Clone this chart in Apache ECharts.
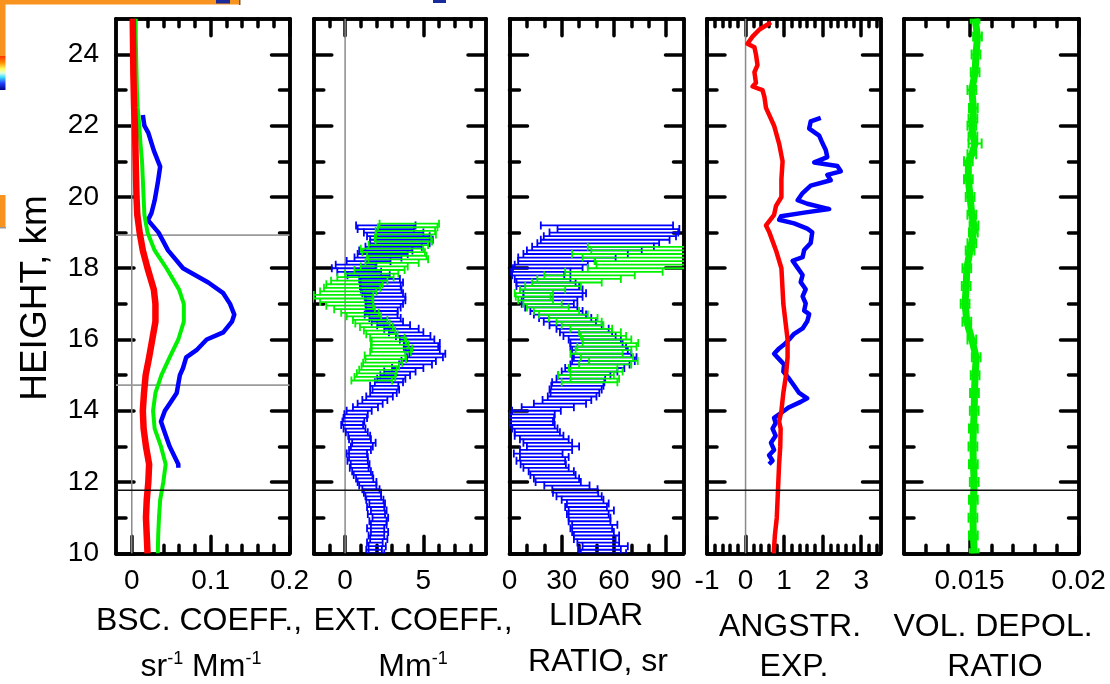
<!DOCTYPE html>
<html>
<head>
<meta charset="utf-8">
<title>Lidar profiles</title>
<script src="https://cdn.jsdelivr.net/npm/echarts@6/dist/echarts.min.js"></script>
<style>
  html, body { margin: 0; padding: 0; background: #fff; }
  #chart { width: 1110px; height: 684px; }
</style>
</head>
<body>
<div id="chart"></div>
<script>
// ---------- data (height in km) ----------
// Backscatter coefficient, sr^-1 Mm^-1
const bscRedH = [10.0, 10.5, 11.0, 11.5, 12.0, 12.5, 13.0, 13.5, 14.0, 14.5, 15.0, 15.5, 16.0, 16.5, 17.0, 17.4, 18.0, 18.5, 19.0, 19.5, 20.0, 20.5, 21.0, 21.5, 22.0, 22.5, 23.0, 23.5, 24.0, 24.5, 25.0];
const bscRed = [0.020, 0.019, 0.018, 0.019, 0.021, 0.022, 0.018, 0.015, 0.014, 0.0155, 0.0176, 0.022, 0.026, 0.030, 0.030, 0.028, 0.020, 0.014, 0.010, 0.007, 0.006, 0.0055, 0.005, 0.0045, 0.004, 0.003, 0.0025, 0.002, 0.0018, 0.0015, 0.0012];
const bscGreenH = [10.0, 10.5, 11.0, 11.5, 12.0, 12.5, 13.0, 13.5, 14.0, 14.5, 15.0, 15.5, 16.0, 16.5, 17.0, 17.4, 18.0, 18.5, 19.0, 19.5, 20.0, 20.5, 21.0, 21.5, 22.0, 22.5, 23.0, 23.5, 24.0, 24.5, 25.0];
const bscGreen = [0.033, 0.0335, 0.0345, 0.036, 0.040, 0.043, 0.037, 0.029, 0.027, 0.030, 0.0376, 0.048, 0.059, 0.066, 0.066, 0.060, 0.044, 0.029, 0.020, 0.016, 0.015, 0.014, 0.013, 0.011, 0.0095, 0.0075, 0.0065, 0.006, 0.0055, 0.005, 0.005];
const bscBlueH = [12.4, 12.5, 12.7, 13.0, 13.5, 13.7, 14.0, 14.2, 14.5, 15.0, 15.2, 15.5, 15.7, 16.0, 16.2, 16.5, 16.7, 17.0, 17.3, 17.6, 18.0, 18.5, 19.0, 19.35, 19.55, 19.9, 20.4, 20.85, 21.3, 21.8, 22.0, 22.3];
const bscBlue = [0.059, 0.059, 0.0545, 0.048, 0.040, 0.037, 0.042, 0.048, 0.057, 0.061, 0.065, 0.069, 0.082, 0.095, 0.116, 0.127, 0.130, 0.1246, 0.116, 0.097, 0.065, 0.046, 0.034, 0.0205, 0.025, 0.029, 0.033, 0.036, 0.028, 0.021, 0.016, 0.014];

// Extinction coefficient, Mm^-1 (value and half error)
const extBlueH = [10.0, 10.1, 10.2, 10.3, 10.4, 10.5, 10.6, 10.7, 10.8, 10.9, 11.0, 11.1, 11.2, 11.3, 11.4, 11.5, 11.6, 11.7, 11.8, 11.9,
  12.0, 12.1, 12.2, 12.3, 12.4, 12.5, 12.6, 12.7, 12.8, 12.9, 13.0, 13.1, 13.2, 13.3, 13.4, 13.5, 13.6, 13.7, 13.8, 13.9,
  14.0, 14.1, 14.2, 14.3, 14.4, 14.5, 14.6, 14.7, 14.8, 14.9, 15.0, 15.1, 15.2, 15.3, 15.4, 15.5, 15.6, 15.7, 15.8, 15.9,
  16.0, 16.1, 16.2, 16.3, 16.4, 16.5, 16.6, 16.7, 16.8, 16.9, 17.0, 17.1, 17.2, 17.3, 17.4, 17.5, 17.6, 17.7, 17.8, 17.9,
  18.0, 18.1, 18.2, 18.3, 18.4, 18.5, 18.6, 18.7, 18.8, 18.9, 19.0, 19.1, 19.2];
const extBlue = [2.0, 1.85, 2.05, 1.9, 2.15, 2.0, 2.2, 1.95, 2.15, 2.1, 2.25, 2.0, 2.15, 1.95, 2.05, 1.9, 1.8, 1.75, 1.65, 1.45,
  1.4, 1.25, 1.15, 1.05, 0.9, 0.96, 0.8, 0.85, 0.75, 0.95, 1.07, 1.2, 0.95, 0.9, 0.75, 0.6, 0.45, 0.53, 0.65, 0.7,
  0.9, 1.3, 1.6, 1.9, 2.2, 2.45, 2.6, 2.5, 2.8, 2.95, 3.2, 3.5, 4.0, 4.5, 4.7, 5.1, 5.25, 4.95, 4.85, 4.9,
  4.6, 4.35, 3.9, 3.6, 3.1, 2.7, 2.55, 2.3, 2.36, 2.45, 2.5, 2.6, 2.55, 2.4, 2.3, 2.25, 2.35, 2.2, 1.5, 0.9,
  0.55, 0.7, 1.5, 2.1, 2.4, 2.6, 3.1, 3.5, 3.6, 3.4, 3.1, 2.6, 2.6];
const extBlueErr = [0.5, 0.5, 0.55, 0.5, 0.55, 0.5, 0.55, 0.55, 0.5, 0.55, 0.5, 0.55, 0.5, 0.55, 0.5, 0.55, 0.5, 0.55, 0.55, 0.55,
  0.6, 0.55, 0.6, 0.6, 0.6, 0.6, 0.65, 0.6, 0.65, 0.7, 0.7, 0.75, 0.7, 0.7, 0.7, 0.7, 0.7, 0.7, 0.75, 0.75,
  0.8, 0.8, 0.8, 0.8, 0.85, 0.85, 0.85, 0.9, 0.9, 0.9, 0.95, 1.0, 1.0, 1.05, 1.1, 1.15, 1.15, 1.1, 1.1, 1.15,
  1.1, 1.1, 1.1, 1.1, 1.05, 1.0, 1.0, 1.05, 1.0, 1.1, 1.2, 1.25, 1.3, 1.3, 1.3, 1.3, 1.35, 1.3, 1.35, 1.4,
  1.4, 1.3, 1.4, 1.5, 1.6, 1.7, 1.8, 1.9, 2.0, 2.0, 1.9, 1.8, 1.9];
const extGreenH = [14.85, 14.95, 15.05, 15.15, 15.25, 15.35, 15.45, 15.55, 15.65, 15.75, 15.85, 15.95, 16.05, 16.15, 16.25, 16.35,
  16.45, 16.55, 16.65, 16.75, 16.85, 16.95, 17.05, 17.15, 17.25, 17.35, 17.45, 17.55, 17.65, 17.75, 17.85, 17.95,
  18.05, 18.15, 18.25, 18.35, 18.45, 18.55, 18.65, 18.75, 18.85, 18.95, 19.05, 19.15, 19.25];
const extGreen = [1.7, 1.9, 2.0, 2.1, 2.25, 2.4, 2.6, 2.55, 2.9, 3.0, 2.85, 2.8, 2.7, 2.35, 2.2, 2.0,
  1.75, 1.6, 1.2, 0.95, 0.6, 0.3, 0.1, -0.15, -0.1, 0.2, 0.45, 0.6, 0.9, 1.3, 1.7, 2.2,
  2.5, 3.0, 3.4, 3.3, 3.1, 3.0, 3.4, 3.75, 3.7, 3.9, 3.85, 4.0, 4.1];
const extGreenErr = [1.3, 1.3, 1.25, 1.2, 1.2, 1.25, 1.3, 1.3, 1.3, 1.3, 1.2, 1.1, 1.1, 1.0, 1.0, 1.05,
  1.1, 1.1, 1.1, 1.2, 1.3, 1.5, 1.7, 1.9, 1.9, 1.8, 1.8, 1.8, 1.8, 1.8, 1.7, 1.6,
  1.5, 1.7, 1.9, 1.9, 2.0, 2.0, 1.9, 1.8, 1.8, 1.9, 1.9, 1.9, 1.9];

// Lidar ratio, sr (value and half error)
const lrBlueH = [10.0, 10.1, 10.2, 10.3, 10.4, 10.5, 10.6, 10.7, 10.8, 10.9, 11.0, 11.1, 11.2, 11.3, 11.4, 11.5, 11.6, 11.7, 11.8, 11.9,
  12.0, 12.1, 12.2, 12.3, 12.4, 12.5, 12.6, 12.7, 12.8, 12.9, 13.0, 13.1, 13.2, 13.3, 13.4, 13.5, 13.6, 13.7, 13.8, 13.9,
  14.0, 14.1, 14.2, 14.3, 14.4, 14.5, 14.6, 14.7, 14.8, 14.9, 15.0, 15.1, 15.2, 15.3, 15.4, 15.5, 15.6, 15.7, 15.8, 15.9,
  16.0, 16.1, 16.2, 16.3, 16.4, 16.5, 16.6, 16.7, 16.8, 16.9, 17.0, 17.1, 17.2, 17.3, 17.4, 17.5, 17.6, 17.7, 17.8, 17.9,
  18.0, 18.1, 18.2, 18.3, 18.4, 18.5, 18.6, 18.7, 18.8, 18.9, 19.0, 19.1, 19.2];
const lrBlue = [54, 52, 55, 51, 49, 50, 48, 47, 49, 46, 46, 45, 47, 44, 45, 42, 40, 38, 37.6, 33,
  28, 27, 25, 24, 21, 19.4, 18, 20, 16.5, 21, 25, 22, 20, 17, 16, 14.6, 13, 12, 12.7, 13,
  15.5, 22, 29, 33, 36, 37.6, 38, 39, 39.5, 41, 43, 46, 49, 52, 54, 55, 53, 52, 51, 50,
  49, 46, 44, 42, 38, 34.7, 32, 29, 27, 24, 22, 23, 25, 26, 24, 22, 21, 19, 16.5, 18,
  22, 24, 27, 33, 38, 43, 48, 51, 55, 57.7, 60, 62.6, 56];
const lrBlueErr = [13, 12, 13, 12, 12, 13, 12, 12, 13, 12, 12, 12, 13, 12, 12, 12, 13, 13, 13, 13,
  13, 13, 13, 13, 13, 13, 14, 14, 14, 15, 15, 14, 14, 14, 13, 13, 13, 13, 13, 13,
  14, 15, 15, 14, 14, 14, 15, 15, 15, 14, 15, 16, 17, 17, 18, 18, 17, 16, 16, 15,
  15, 15, 15, 15, 15, 15, 15, 15, 15, 15, 15, 16, 17, 18, 18, 18, 17, 16, 15, 17,
  20, 21, 22, 28, 30, 33, 35, 35, 37, 38, 37, 35, 38];
const lrGreenH = [14.8, 14.9, 15.0, 15.1, 15.2, 15.3, 15.4, 15.5, 15.6, 15.7, 15.8, 15.9, 16.0, 16.1, 16.2, 16.3, 16.4, 16.5, 16.6, 16.7,
  16.8, 16.9, 17.0, 17.1, 17.2, 17.3, 17.4, 17.5, 17.6, 17.7, 17.8, 17.9, 18.0, 18.1, 18.2, 18.3, 18.4, 18.5, 18.6];
const lrGreen = [46, 49, 44, 50, 48, 55, 59.7, 56, 50, 54, 56, 58, 56, 54, 52, 47, 42, 40, 36.6, 31,
  27, 22, 19, 15, 13.6, 14, 19, 25, 33, 40, 46, 60, 75, 80, 79, 74, 71, 77, 75];
const lrGreenErr = [16, 14, 16, 15, 14, 15, 14, 15, 15, 16, 17, 16, 14, 13, 12, 12, 12, 13, 14, 14,
  13, 12, 11, 10, 10, 11, 13, 16, 20, 24, 26, 28, 30, 30, 30, 32, 35, 30, 30];

// Angstrom exponent
const angRedH = [10.0, 10.5, 11.0, 11.5, 12.0, 12.5, 13.0, 13.5, 13.7, 14.0, 14.5, 15.0, 15.5, 16.0, 17.0, 18.0, 18.5, 19.0, 19.2, 19.5, 19.75, 20.0, 20.5, 21.0, 21.5, 22.0, 22.5, 22.8, 23.0, 23.1, 23.2, 23.5, 23.7, 24.0, 24.2, 24.3, 24.5, 24.7, 24.9];
const angRed = [0.73, 0.76, 0.81, 0.83, 0.85, 0.87, 0.9, 0.91, 0.87, 0.93, 0.98, 1.05, 1.09, 1.09, 0.98, 0.93, 0.79, 0.62, 0.53, 0.74, 0.79, 0.93, 0.93, 0.96, 0.87, 0.74, 0.53, 0.49, 0.44, 0.18, 0.27, 0.23, 0.31, 0.27, 0.23, 0.05, 0.18, 0.36, 0.66];
const angBlueH = [12.5, 12.6, 12.75, 12.9, 13.1, 13.3, 13.5, 13.65, 13.8, 14.0, 14.1, 14.25, 14.35, 14.5, 14.7, 14.9, 15.1, 15.3, 15.45, 15.6, 15.75, 15.86, 16.0, 16.16, 16.31, 16.51, 16.71, 16.81, 17.01, 17.21, 17.41, 17.61, 17.81, 18.01, 18.21, 18.31, 18.51, 18.71, 19.01, 19.11, 19.26, 19.36, 19.46, 19.56, 19.66, 19.81, 19.91, 20.11, 20.32, 20.47, 20.62, 20.72, 20.87, 20.97, 21.12, 21.32, 21.52, 21.72, 21.92, 22.12, 22.22];
const angBlue = [0.61, 0.70, 0.61, 0.74, 0.66, 0.78, 0.70, 0.78, 0.74, 1.0, 1.13, 1.43, 1.6, 1.39, 1.26, 1.13, 0.98, 1.0, 0.87, 0.74, 0.87, 1.0, 1.13, 1.26, 1.48, 1.6, 1.65, 1.52, 1.56, 1.48, 1.56, 1.43, 1.48, 1.35, 1.22, 1.48, 1.52, 1.69, 1.73, 1.6, 1.26, 0.87, 0.92, 1.52, 2.17, 1.6, 1.35, 1.48, 1.69, 2.21, 2.12, 2.47, 2.38, 1.78, 2.12, 2.08, 1.99, 1.91, 1.65, 1.69, 1.95];

// Volume depolarization ratio (value and half error)
const depH = [10.0, 10.5, 11.0, 11.5, 12.0, 12.5, 13.0, 13.5, 14.0, 14.5, 15.0, 15.5, 16.0, 16.5, 17.0, 17.5, 18.0, 18.5, 18.7, 19.0, 19.2, 19.5, 20.0, 20.5, 21.0, 21.2, 21.5, 21.7, 22.0, 22.2, 22.5, 23.0, 23.5, 24.0, 24.5, 25.0];
const dep = [0.01522, 0.01518, 0.01516, 0.01518, 0.01522, 0.01518, 0.01516, 0.01518, 0.01522, 0.01523, 0.01526, 0.01531, 0.01511, 0.01488, 0.0148, 0.01485, 0.01488, 0.01503, 0.01511, 0.01518, 0.01521, 0.01511, 0.01503, 0.01495, 0.01495, 0.01511, 0.01526, 0.01516, 0.01511, 0.01516, 0.01518, 0.01511, 0.01526, 0.0153, 0.01537, 0.01526];
const depErr = [0.0002, 0.0002, 0.0002, 0.0002, 0.0002, 0.0002, 0.0002, 0.0002, 0.0002, 0.0002, 0.0002, 0.0002, 0.0002, 0.0002, 0.0002, 0.0002, 0.0002, 0.0002, 0.0002, 0.0002, 0.0002, 0.0002, 0.0002, 0.0002, 0.0002, 0.0002, 0.0003, 0.0002, 0.0002, 0.0002, 0.0002, 0.0002, 0.0002, 0.0002, 0.0002, 0.0002];

// Marked layer heights, km
const layerHeights = [18.93, 14.72];
const tropopauseHeight = 11.77;

// Axis ticks
const heightRange = [10, 25];
const heightMajor = [10, 12, 14, 16, 18, 20, 22, 24];
const heightMinor = [11, 13, 15, 17, 19, 21, 23];
const bscRange = [-0.02, 0.2], bscMajor = [0, 0.1, 0.2], bscMinor = [0.02, 0.04, 0.06, 0.08, 0.12, 0.14, 0.16, 0.18];
const extRange = [-2, 9], extMajor = [0, 5], extMinor = [-1, 1, 2, 3, 4, 6, 7, 8];
const lrRange = [0, 100], lrMajor = [0, 30, 60, 90], lrMinor = [10, 20, 40, 50, 70, 80];
const angRange = [-1, 3.5], angMajor = [-1, 0, 1, 2, 3];
const angMinor = [-0.8, -0.6, -0.4, -0.2, 0.2, 0.4, 0.6, 0.8, 1.2, 1.4, 1.6, 1.8, 2.2, 2.4, 2.6, 2.8, 3.2, 3.4];
const depRange = [0.012, 0.02], depMajor = [0.015, 0.02], depMinor = [0.013, 0.014, 0.016, 0.017, 0.018, 0.019];

// Axis titles
const yTitle = 'HEIGHT, km';
const xTitles = [
  ['BSC. COEFF.,', 'sr{s|-1} Mm{s|-1}'],
  ['EXT. COEFF.,', 'Mm{s|-1}'],
  ['LIDAR', 'RATIO, sr'],
  ['ANGSTR.', 'EXP.'],
  ['VOL. DEPOL.', 'RATIO']
];

// ---------- layout ----------
const FONT = '"Liberation Sans", Arial, Helvetica, sans-serif';
const RED = '#ff0000', GREEN = '#00f000', BLUE = '#0000ff';
const TOP = 18.8, HEIGHT = 534.5;
const panels = [
  { left: 116, width: 173.5, range: bscRange, major: bscMajor, minor: bscMinor, zero: true },
  { left: 313.8, width: 172.2, range: extRange, major: extMajor, minor: extMinor, zero: true },
  { left: 509.5, width: 174, range: lrRange, major: lrMajor, minor: lrMinor, zero: false },
  { left: 707, width: 173.5, range: angRange, major: angMajor, minor: angMinor, zero: true },
  { left: 904, width: 174.5, range: depRange, major: depMajor, minor: depMinor, zero: false }
];
const titleX1 = [199, 413, 596, 790, 993];
const titleX2 = [201, 413, 598, 794, 995];
const titleRow1Y = [621, 621, 616, 627, 627];
const titleRow2Y = [667, 667, 662, 667, 667];

const frameStyle = { color: '#000', width: 3.5, cap: 'round' };
const tickStyle = { color: '#000', width: 3.5, cap: 'round' };

const grids = [], xAxes = [], yAxes = [];
panels.forEach((p, i) => {
  grids.push({ left: p.left, top: TOP, width: p.width, height: HEIGHT, containLabel: false });
  const xb = {
    gridIndex: i, type: 'value', min: p.range[0], max: p.range[1],
    splitLine: { show: false },
    axisLine: { show: true, onZero: false, lineStyle: frameStyle }
  };
  ['bottom', 'top'].forEach(pos => {
    xAxes.push(Object.assign({}, xb, {
      position: pos,
      axisTick: { show: true, inside: true, length: 17, customValues: p.major, lineStyle: tickStyle },
      axisLabel: pos === 'bottom'
        ? { show: true, customValues: p.major, margin: 14, fontSize: 28, fontFamily: FONT, color: '#000',
            formatter: v => String(v) }
        : { show: false }
    }));
    xAxes.push(Object.assign({}, xb, {
      position: pos,
      axisTick: { show: true, inside: true, length: 8, customValues: p.minor, lineStyle: tickStyle },
      axisLabel: { show: false }
    }));
  });
  const yb = {
    gridIndex: i, type: 'value', min: heightRange[0], max: heightRange[1],
    splitLine: { show: false },
    axisLine: { show: true, onZero: false, lineStyle: frameStyle }
  };
  ['left', 'right'].forEach(pos => {
    yAxes.push(Object.assign({}, yb, {
      position: pos,
      axisTick: { show: true, inside: true, length: 18, customValues: heightMajor, lineStyle: tickStyle },
      axisLabel: (pos === 'left' && i === 0)
        ? { show: true, customValues: heightMajor, margin: 17, fontSize: 28, fontFamily: FONT, color: '#000' }
        : { show: false }
    }));
    yAxes.push(Object.assign({}, yb, {
      position: pos,
      axisTick: { show: true, inside: true, length: 10, customValues: heightMinor, lineStyle: tickStyle },
      axisLabel: { show: false }
    }));
  });
});

// ---------- series helpers ----------
const axisOf = i => ({ xAxisIndex: 4 * i, yAxisIndex: 4 * i });
const pairs = (vals, hs) => hs.map((h, k) => [vals[k], h]);

function profile(i, vals, hs, color, width, z) {
  return Object.assign({
    type: 'line', data: pairs(vals, hs), showSymbol: false, symbol: 'none',
    lineStyle: { color, width, join: 'round' }, z: z || 3, clip: true, animation: false, silent: true
  }, axisOf(i));
}

function errorBars(i, vals, hs, errs, color, z, lw, cap) {
  return Object.assign({
    type: 'custom', clip: true, animation: false, silent: true, z: z || 3,
    data: hs.map((h, k) => [vals[k], h, errs[k]]),
    encode: { x: [0], y: 1 },
    renderItem: (params, api) => {
      const v = api.value(0), h = api.value(1), e = api.value(2);
      const a = api.coord([v - e, h]), b = api.coord([v + e, h]);
      const st = { stroke: color, lineWidth: lw || 1.8 };
      const c = cap || 4;
      return {
        type: 'group', children: [
          { type: 'line', shape: { x1: a[0], y1: a[1], x2: b[0], y2: b[1] }, style: st },
          { type: 'line', shape: { x1: a[0], y1: a[1] - c, x2: a[0], y2: a[1] + c }, style: st },
          { type: 'line', shape: { x1: b[0], y1: b[1] - c, x2: b[0], y2: b[1] + c }, style: st }
        ]
      };
    }
  }, axisOf(i));
}

function refLine(i, x0, x1, h, color, width, z) {
  return Object.assign({
    type: 'line', data: [[x0, h], [x1, h]], showSymbol: false, symbol: 'none',
    lineStyle: { color, width }, z: z || 2, animation: false, silent: true
  }, axisOf(i));
}

function zeroLine(i) {
  return Object.assign({
    type: 'line', data: [[0, heightRange[0]], [0, heightRange[1]]], showSymbol: false, symbol: 'none',
    lineStyle: { color: '#8a8a8a', width: 1.5 }, z: 1, animation: false, silent: true
  }, axisOf(i));
}

const series = [];
panels.forEach((p, i) => {
  if (p.zero) series.push(zeroLine(i));
  series.push(refLine(i, p.range[0], p.range[1], tropopauseHeight, '#111', 1.6, 6));
});
layerHeights.forEach(h => series.push(refLine(0, bscRange[0], bscRange[1], h, '#9a9a9a', 1.8, 2)));

// Panel 1: backscatter
series.push(profile(0, bscBlue, bscBlueH, BLUE, 4.5, 3));
series.push(profile(0, bscGreen, bscGreenH, GREEN, 4, 4));
series.push(profile(0, bscRed, bscRedH, RED, 6.5, 5));
// Panel 2: extinction
series.push(errorBars(1, extBlue, extBlueH, extBlueErr, BLUE, 3));
series.push(errorBars(1, extGreen, extGreenH, extGreenErr, GREEN, 4));
// Panel 3: lidar ratio
series.push(errorBars(2, lrBlue, lrBlueH, lrBlueErr, BLUE, 3));
series.push(errorBars(2, lrGreen, lrGreenH, lrGreenErr, GREEN, 4));
// Panel 4: Angstrom exponent
series.push(profile(3, angBlue, angBlueH, BLUE, 4.5, 3));
series.push(profile(3, angRed, angRedH, RED, 4.5, 4));
// Panel 5: volume depolarization ratio
series.push(profile(4, dep, depH, GREEN, 7, 3));
series.push(errorBars(4, dep, depH, depErr, GREEN, 3, 2, 5));

// ---------- text ----------
const textBase = { fontFamily: FONT, fill: '#000', align: 'center', verticalAlign: 'middle',
                   textAlign: 'center', textVerticalAlign: 'middle' };
const graphics = [
  { type: 'text', x: 36, y: 298, rotation: Math.PI / 2,
    style: Object.assign({}, textBase, { text: yTitle, fontSize: 37 }) }
];
xTitles.forEach((t, i) => {
  graphics.push({ type: 'text', x: titleX1[i], y: titleRow1Y[i],
    style: Object.assign({}, textBase, { text: t[0], fontSize: 32 }) });
  graphics.push({ type: 'text', x: titleX2[i], y: titleRow2Y[i],
    style: Object.assign({}, textBase, {
      text: t[1], fontSize: 32,
      rich: { s: { fontSize: 18, fontFamily: FONT, verticalAlign: 'top', lineHeight: 34 } }
    }) });
});

// Slide remnants along the upper left corner
const ORANGE = '#f7931e';
graphics.push({ type: 'rect', shape: { x: 0, y: 0, width: 240, height: 4.5 }, style: { fill: ORANGE }, z: -1 });
graphics.push({ type: 'rect', shape: { x: 239, y: 0, width: 1.5, height: 5 }, style: { fill: '#7a5a30' }, z: -1 });
graphics.push({ type: 'rect', shape: { x: 216, y: 0, width: 14, height: 3.5 }, style: { fill: '#1a2a9a' }, z: -1 });
graphics.push({ type: 'rect', shape: { x: 433, y: 0, width: 13, height: 3 }, style: { fill: '#1a2a9a' }, z: -1 });
graphics.push({ type: 'rect', shape: { x: 0, y: 0, width: 5.5, height: 56 }, style: { fill: ORANGE }, z: -1 });
graphics.push({ type: 'rect', shape: { x: 0, y: 56, width: 5.5, height: 34 }, z: -1,
  style: { fill: new echarts.graphic.LinearGradient(0, 0, 0, 1, [
    { offset: 0, color: '#ff3000' }, { offset: 0.2, color: '#ff9000' }, { offset: 0.38, color: '#ffff60' },
    { offset: 0.5, color: '#e0ffe0' }, { offset: 0.62, color: '#40e0ff' }, { offset: 0.8, color: '#2040ff' },
    { offset: 1, color: '#000080' }]) } });
graphics.push({ type: 'rect', shape: { x: 0, y: 195, width: 5.5, height: 32 }, style: { fill: ORANGE }, z: -1 });
graphics.push({ type: 'rect', shape: { x: 0, y: 227, width: 6, height: 1.5 }, style: { fill: '#999' }, z: -1 });

const chart = echarts.init(document.getElementById('chart'), null, { renderer: 'canvas' });
chart.setOption({
  animation: false,
  backgroundColor: '#fff',
  grid: grids,
  xAxis: xAxes,
  yAxis: yAxes,
  series: series,
  graphic: graphics
});
</script>
</body>
</html>
